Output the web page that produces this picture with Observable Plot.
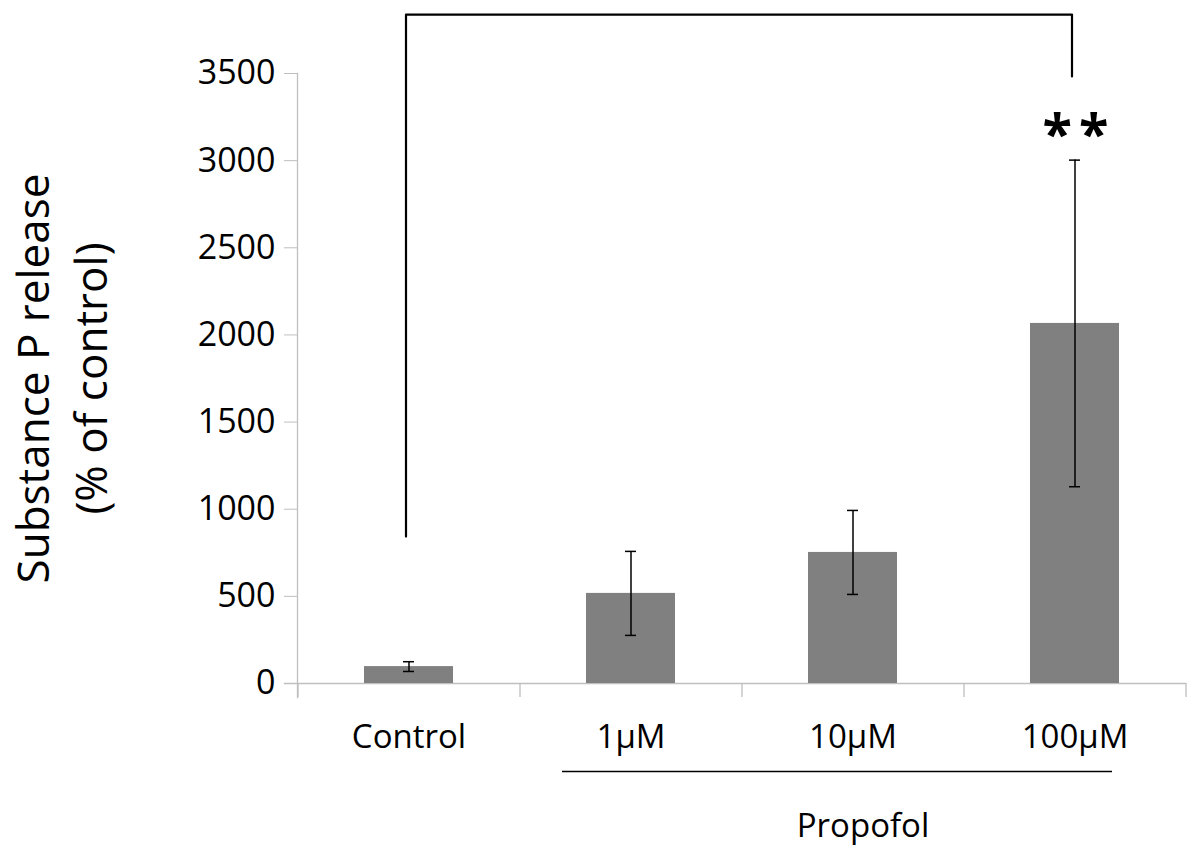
<!DOCTYPE html>
<html>
<head>
<meta charset="utf-8">
<script src="https://cdn.jsdelivr.net/npm/d3@7"></script>
<script src="https://cdn.jsdelivr.net/npm/@observablehq/plot@0.6"></script>
<style>
  html, body { margin: 0; padding: 0; background: #fff; }
  #chart svg { display: block; }
</style>
</head>
<body>
<div id="chart"></div>
<script>
// ---- data ----
const categories = ["Control", "1µM", "10µM", "100µM"];
const means = [97, 517, 752, 2066];
const errors = [28, 241, 241, 937];
const yTicks = [0, 500, 1000, 1500, 2000, 2500, 3000, 3500];

// significance bracket (data units)
const bracketCats = ["Control", "Control", "100µM", "100µM"];
const bracketY = [843, 3838, 3838, 3483];
const starText = ["**"];
const starCat = ["100µM"];
const starY = [3215];

// group label
const groupLabel = ["Propofol"];
const groupFrom = ["1µM"];
const groupTo = ["100µM"];
const groupLineY = [-505];
const groupLabelY = [-820];

const yLabelText = "Substance P release\n(% of control)";

const bars = categories.map((c, i) => ({cat: c, mean: means[i], err: errors[i]}));
const bracket = bracketCats.map((c, i) => ({cat: c, y: bracketY[i]}));

const axisGray = "#bfbfbf";
const font = "'Open Sans', 'Noto Sans', sans-serif";

const chart = Plot.plot({
  width: 1189,
  height: 848,
  marginLeft: 297,
  marginRight: 4,
  marginTop: 73,
  marginBottom: 165,
  style: {fontFamily: font, background: "#fff", color: "#000"},
  x: {domain: categories, paddingInner: 0.6, paddingOuter: 0.3, label: null},
  y: {domain: [0, 3500], label: null},
  marks: [
    // axis lines
    Plot.frame({anchor: "left", stroke: axisGray, strokeWidth: 1.3, insetBottom: -14}),
    Plot.frame({anchor: "bottom", stroke: axisGray, strokeWidth: 1.3, insetLeft: -13}),
    // category separator ticks
    Plot.ruleX(categories, {x: d => d, y1: 0, y2: 0, insetBottom: -14, dx: -111, stroke: axisGray, strokeWidth: 1.3}),
    Plot.ruleX([categories[categories.length - 1]], {x: d => d, y1: 0, y2: 0, insetBottom: -14, dx: 111, stroke: axisGray, strokeWidth: 1.3}),
    Plot.axisY({ticks: yTicks, tickSize: 13, tickPadding: 9, stroke: axisGray, fill: "#000", fontSize: 34, tickFormat: d => String(d), label: null}),
    Plot.axisX({tickSize: 0, tickPadding: 41, fill: "#000", fontSize: 33, label: null}),
    // bars
    Plot.barY(bars, {x: "cat", y: "mean", fill: "#808080"}),
    // error bars
    Plot.ruleX(bars, {x: "cat", y1: d => d.mean - d.err, y2: d => d.mean + d.err, stroke: "#000", strokeWidth: 1.5}),
    Plot.tickY(bars, {x: "cat", y: d => d.mean + d.err, stroke: "#000", strokeWidth: 1.5, insetLeft: 39, insetRight: 39}),
    Plot.tickY(bars, {x: "cat", y: d => d.mean - d.err, stroke: "#000", strokeWidth: 1.5, insetLeft: 39, insetRight: 39}),
    // significance bracket
    Plot.line(bracket, {x: "cat", y: "y", stroke: "#000", strokeWidth: 2.2, dx: -3, curve: "linear"}),
    Plot.text(starText, {x: (d, i) => starCat[i], y: (d, i) => starY[i], text: d => d, fontSize: 54, fontWeight: "bold", fill: "#000", lineAnchor: "middle", dy: 13, dx: 4}),
    // group line + label
    Plot.ruleY(groupLineY, {y: d => d, x1: () => groupFrom[0], x2: () => groupTo[0], stroke: "#000", strokeWidth: 1.6, insetLeft: -24, insetRight: 7}),
    Plot.text(groupLabel, {x: () => "10µM", y: () => groupLabelY[0], text: d => d, fontSize: 33, fill: "#000", dx: 10}),
    // y label
    Plot.text([yLabelText], {frameAnchor: "left", text: d => d, rotate: -90, fontSize: 44, lineHeight: 1.32, fill: "#000", dx: -238, textAnchor: "middle", lineAnchor: "middle"})
  ]
});
// widen the gap between the two asterisks
d3.select(chart).selectAll("text").filter(function() { return this.textContent === "**"; }).attr("letter-spacing", 7);
document.getElementById("chart").appendChild(chart);
</script>
</body>
</html>
